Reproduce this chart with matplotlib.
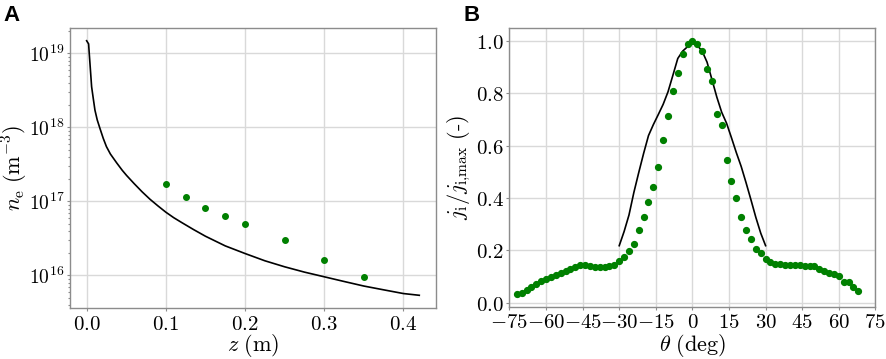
import matplotlib
matplotlib.use("Agg")
import matplotlib.pyplot as plt
from matplotlib.ticker import FuncFormatter, FixedLocator, LogLocator, NullFormatter
import numpy as np

# Panel A: electron density along the axis
z_line = [0.0, 0.0025, 0.0033, 0.0042, 0.0063, 0.0084, 0.0105, 0.0134, 0.017, 0.021,
          0.025, 0.03, 0.038, 0.045, 0.0505, 0.06, 0.07, 0.08, 0.09, 0.1,
          0.11, 0.12, 0.135, 0.15, 0.175, 0.2, 0.225, 0.25, 0.275, 0.3,
          0.325, 0.35, 0.375, 0.4, 0.42]
ne_line = [1.48e19, 1.34e19, 1.0e19, 7.33e18, 3.54e18, 2.45e18, 1.71e18, 1.26e18, 9.55e17, 7.1e17,
           5.5e17, 4.37e17, 3.31e17, 2.63e17, 2.24e17, 1.74e17, 1.35e17, 1.07e17, 8.71e16, 7.16e16,
           6.03e16, 5.19e16, 4.17e16, 3.39e16, 2.51e16, 1.98e16, 1.58e16, 1.31e16, 1.11e16, 9.6e15,
           8.3e15, 7.2e15, 6.4e15, 5.7e15, 5.4e15]
z_meas = [0.1, 0.125, 0.15, 0.175, 0.2, 0.25, 0.3, 0.35]
ne_meas = [1.73e17, 1.14e17, 8.1e16, 6.4e16, 4.94e16, 2.97e16, 1.64e16, 9.4e15]

# Panel B: normalised ion current density vs angle
theta_line = [-30, -28, -26, -24, -22, -20, -18, -16, -14, -12, -10, -8, -6, -4, -2, 0,
              2, 4, 6, 8, 10, 12, 14, 16, 18, 20, 22, 24, 26, 28, 30]
j_line = [0.218, 0.272, 0.335, 0.421, 0.497, 0.570, 0.638, 0.680, 0.718, 0.757, 0.805,
          0.868, 0.932, 0.960, 0.977, 0.990, 0.982, 0.960, 0.918, 0.852, 0.785, 0.727,
          0.685, 0.630, 0.573, 0.520, 0.458, 0.393, 0.326, 0.266, 0.218]
theta_meas = list(range(-72, 70, 2))
j_meas = [0.034, 0.039, 0.048, 0.061, 0.072, 0.082, 0.092, 0.100, 0.107, 0.115,
          0.122, 0.130, 0.138, 0.144, 0.144, 0.141, 0.138, 0.138, 0.138, 0.140,
          0.145, 0.159, 0.174, 0.198, 0.225, 0.279, 0.327, 0.384, 0.443, 0.519,
          0.623, 0.713, 0.807, 0.878, 0.950, 0.988, 1.000, 0.988, 0.961, 0.893,
          0.845, 0.722, 0.680, 0.543, 0.466, 0.401, 0.328, 0.279, 0.242, 0.206,
          0.189, 0.169, 0.154, 0.150, 0.148, 0.146, 0.146, 0.145, 0.143, 0.140,
          0.139, 0.139, 0.129, 0.121, 0.115, 0.109, 0.102, 0.080, 0.080, 0.061,
          0.044]

plt.rcParams['mathtext.fontset'] = 'cm'

fig = plt.figure(figsize=(8.86, 3.59), dpi=100)
axA = fig.add_axes([0.079, 0.142, 0.413, 0.780])
axB = fig.add_axes([0.575, 0.146, 0.413, 0.776])

spine_col = '#8c8c8c'
grid_col = '#d9d9d9'


def style(ax):
    for s in ax.spines.values():
        s.set_color(spine_col)
        s.set_linewidth(1.0)
    ax.grid(True, color=grid_col, linewidth=1.0)
    ax.set_axisbelow(True)
    ax.tick_params(which='both', color=spine_col, labelsize=15, length=2.5, width=0.8, pad=1.5)
    ax.tick_params(which='minor', length=1.5)


# ---- A ----
axA.plot(z_line, ne_line, color='black', linewidth=1.2)
axA.plot(z_meas, ne_meas, 'o', color='green', markersize=4)
axA.set_yscale('log')
axA.set_xticks([0.0, 0.1, 0.2, 0.3, 0.4])
axA.xaxis.set_major_formatter(FuncFormatter(lambda v, p: r'$%.1f$' % v))
axA.yaxis.set_major_locator(FixedLocator([1e16, 1e17, 1e18, 1e19]))
axA.yaxis.set_major_formatter(FuncFormatter(lambda v, p: r'$10^{%d}$' % round(np.log10(v))))
axA.yaxis.set_minor_locator(LogLocator(base=10, subs=np.arange(2, 10), numticks=20))
axA.yaxis.set_minor_formatter(NullFormatter())
style(axA)
axA.tick_params(axis='y', labelsize=14)
axA.set_xlabel(r'$z\ (\mathrm{m})$', fontsize=16)
axA.set_ylabel(r'$n_{\mathrm{e}}\ (\mathrm{m}^{-3})$', fontsize=16)
axA.xaxis.set_label_coords(0.5, -0.086)
axA.yaxis.set_label_coords(-0.108, 0.5)

# ---- B ----
axB.plot(theta_line, j_line, color='black', linewidth=1.2)
axB.plot(theta_meas, j_meas, 'o', color='green', markersize=4.2)
axB.set_xlim(-75, 75)
axB.set_xticks(list(range(-75, 76, 15)))
axB.xaxis.set_major_formatter(FuncFormatter(lambda v, p: r'$%d$' % round(v)))
axB.set_yticks([0.0, 0.2, 0.4, 0.6, 0.8, 1.0])
axB.yaxis.set_major_formatter(FuncFormatter(lambda v, p: r'$%.1f$' % v))
style(axB)
axB.set_xlabel(r'$\theta\ (\mathrm{deg})$', fontsize=16)
axB.set_ylabel(r'$j_{\mathrm{i}}/j_{\mathrm{i{,}max}}\ (\text{-})$', fontsize=16)
axB.xaxis.set_label_coords(0.5, -0.091)
axB.yaxis.set_label_coords(-0.1, 0.5)

fig.text(0.004, 0.985, 'A', fontsize=16, fontweight='bold', family='Liberation Sans', va='top')
fig.text(0.523, 0.985, 'B', fontsize=16, fontweight='bold', family='Liberation Sans', va='top')

fig.savefig('out.png', dpi=100)
